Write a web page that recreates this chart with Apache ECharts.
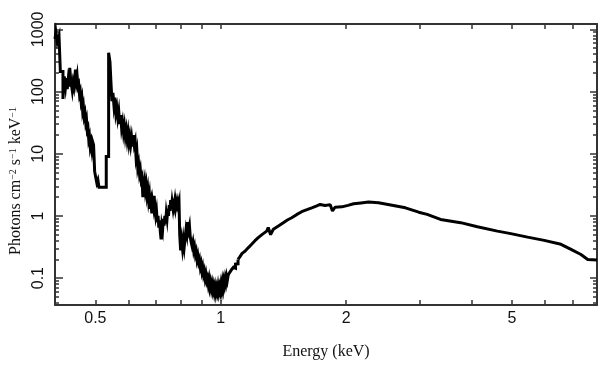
<!DOCTYPE html>
<html><head><meta charset="utf-8">
<script src="https://cdn.jsdelivr.net/npm/echarts@6/dist/echarts.min.js"></script>
<style>html,body{margin:0;padding:0;background:#fff}#c{width:609px;height:369px}</style>
</head><body><div id="c"></div>
<script>
// Low-energy (binned, step) part of the spectrum: energy (keV) and flux
const energyLow = [0.400,0.402,0.405,0.409,0.412,
  0.418,0.421,0.424,0.426,0.428,0.430,0.432,0.434,0.436,0.438,0.440,0.442,0.444,0.446,0.448,0.450,0.452,0.454,0.456,0.458,0.460,0.462,0.464,0.466,0.468,0.470,0.472,0.474,0.476,0.478,0.480,0.482,0.484,0.486,0.488,0.490,0.492,0.495,0.498,0.501,0.504,0.507,0.510,0.531,
  0.538,0.542,0.545,0.548,0.551,0.554,0.557,0.560,0.563,0.566,0.569,0.572,0.575,0.578,0.581,0.584,0.587,0.590,0.593,0.596,0.599,0.602,0.605,0.608,0.611,0.614,0.617,0.620,0.623,0.626,0.629,0.632,0.635,0.638,0.641,0.644,0.647,0.650,0.653,0.656,0.659,0.662,0.665,0.668,0.671,0.674,0.677,0.680,0.683,0.686,0.689,0.692,0.695,0.698,0.701,0.704,0.707,0.710,0.713,0.716,0.719,0.722,0.725,0.728,0.731,0.734,0.737,0.740,0.743,0.746,0.749,0.752,0.755,0.758,0.761,0.764,0.767,0.770,0.773,0.776,0.779,0.782,0.785,0.788,0.791,0.794,
  0.797,0.801,0.805,0.809,0.813,0.817,0.821,0.825,0.829,0.833,0.837,0.841,0.845,0.849,0.853,0.857,0.861,0.865,0.869,0.873,0.877,0.881,0.885,0.889,0.893,0.897,0.901,0.905,0.909,0.913,0.917,0.921,0.925,0.929,0.933,0.937,0.941,0.945,0.949,0.953,0.957,0.961,0.965,0.969,0.973,0.977,0.981,0.985,0.989,0.993,0.997,1.001,1.005,1.009,1.013,1.017,1.021,1.025,1.029,1.033,1.037,1.042,1.047,1.052,1.057,1.062,1.067,1.073,1.079,1.085,1.092,1.100];
const fluxLow = [700,900,620,780,210,
  76,175,120,165,110,150,120,240,160,130,105,140,120,170,225,150,180,120,130,90,100,70,80,50,58,40,45,32,36,24,26,17,19,13,15,12,16,14,5.2,4.2,3.4,3.8,2.9,9.0,
  420,300,140,70,95,60,80,45,55,38,48,30,42,26,32,22,28,19,24,17,22,15,19,14,18,13,20,14,16,9,11,6,7,4.8,5.6,3.8,4.2,2.0,3.2,3.8,2.6,3.2,2.2,2.7,1.8,2.2,1.3,1.6,1.1,1.7,1.4,2.1,1.3,1.0,1.2,0.8,1.0,0.65,0.85,0.55,0.42,0.7,0.6,0.9,0.7,1.0,0.75,1.1,0.9,1.3,1.0,1.5,1.2,1.8,1.3,1.7,1.4,1.9,1.5,1.8,1.4,1.7,1.5,1.7,1.4,1.6,
  0.5,0.28,0.4,0.3,0.42,0.32,0.45,0.6,0.5,0.8,0.6,0.7,0.45,0.38,0.33,0.38,0.28,0.32,0.24,0.27,0.2,0.23,0.18,0.2,0.15,0.17,0.13,0.15,0.115,0.13,0.1,0.115,0.09,0.1,0.08,0.095,0.072,0.085,0.068,0.08,0.064,0.075,0.06,0.072,0.058,0.07,0.06,0.074,0.06,0.072,0.062,0.078,0.065,0.085,0.07,0.09,0.078,0.098,0.085,0.105,0.092,0.112,0.105,0.125,0.118,0.138,0.13,0.15,0.145,0.168,0.17,0.2];
// High-energy (continuum) part
const energyHigh = [1.100,1.111,1.125,1.143,1.165,1.186,1.208,1.230,1.260,1.289,1.300,1.317,1.337,1.375,1.413,1.445,1.480,1.520,1.564,1.610,1.654,1.700,1.732,1.780,1.831,1.854,1.880,1.953,2.020,2.084,2.170,2.263,2.392,2.577,2.775,2.987,3.129,3.369,3.765,4.13,4.614,4.967,5.45,5.975,6.555,6.93,7.32,7.60,8.0];
const fluxHigh = [0.2,0.22,0.25,0.27,0.31,0.35,0.40,0.447,0.51,0.57,0.65,0.50,0.61,0.69,0.78,0.86,0.935,1.05,1.17,1.26,1.35,1.45,1.53,1.47,1.52,1.2,1.38,1.40,1.48,1.57,1.62,1.67,1.63,1.49,1.35,1.15,1.06,0.88,0.78,0.67,0.57,0.52,0.457,0.405,0.35,0.29,0.24,0.20,0.195];

const xLabelValues = [0.5, 1, 2, 5];
const xTickValues = [0.5, 0.6, 0.7, 0.8, 0.9, 1, 2, 3, 4, 5, 6, 7];
const yLabelValues = [0.1, 1, 10, 100, 1000];
const yMinorValues = [0.04,0.05,0.06,0.07,0.08,0.09,0.2,0.3,0.4,0.5,0.6,0.7,0.8,0.9,2,3,4,5,6,7,8,9,20,30,40,50,60,70,80,90,200,300,400,500,600,700,800,900];

const X_MIN = 0.4, X_MAX = 8, Y_MIN = 0.037, Y_MAX = 1220;
const axisColor = '#333';
const sans = 'Liberation Sans, Arial, sans-serif';
const serif = 'Liberation Serif, Times New Roman, serif';
const fmt = v => String(+(+v).toPrecision(3));

function xAx(pos, withLabels) {
  return {
    type: 'log', logBase: 10, min: X_MIN, max: X_MAX, position: pos,
    axisLine: { show: true, onZero: false, lineStyle: { color: axisColor, width: 2 } },
    axisTick: { show: true, inside: true, length: 5, customValues: xTickValues, lineStyle: { color: axisColor, width: 1.5 } },
    axisLabel: withLabels ? { show: true, customValues: xLabelValues, formatter: fmt, margin: 6, color: '#111', fontFamily: sans, fontSize: 16 } : { show: false },
    splitLine: { show: false }, minorTick: { show: false }, minorSplitLine: { show: false },
    name: withLabels ? 'Energy (keV)' : '', nameLocation: 'middle', nameGap: 39,
    nameTextStyle: { fontFamily: serif, fontSize: 16, color: '#111' }
  };
}
function yAx(pos, vals, len, withLabels, showLine) {
  return {
    type: 'log', logBase: 10, min: Y_MIN, max: Y_MAX, position: pos,
    axisLine: { show: showLine, onZero: false, lineStyle: { color: axisColor, width: 2 } },
    axisTick: { show: true, inside: true, length: len, customValues: vals, lineStyle: { color: axisColor, width: 1.5 } },
    axisLabel: withLabels ? { show: true, customValues: yLabelValues, formatter: fmt, rotate: 90, margin: 8, color: '#111', fontFamily: sans, fontSize: 16 } : { show: false },
    splitLine: { show: false }, minorTick: { show: false }, minorSplitLine: { show: false }
  };
}

const chart = echarts.init(document.getElementById('c'), null, { renderer: 'canvas' });
chart.setOption({
  animation: false,
  backgroundColor: '#fff',
  grid: { left: 55, right: 12, top: 24, bottom: 64, containLabel: false },
  xAxis: [xAx('bottom', true), xAx('top', false)],
  yAxis: [
    yAx('left', yLabelValues, 8, true, true),
    yAx('left', yMinorValues, 4, false, false),
    yAx('right', yLabelValues, 7, false, true),
    yAx('right', yMinorValues, 4, false, false)
  ],
  graphic: [{
    type: 'text', x: 16, y: 181, rotation: Math.PI / 2,
    style: {
      text: '{a|Photons cm}{s|−2}{a| s}{s|−1}{a| keV}{s|−1}',
      align: 'center', verticalAlign: 'middle',
      rich: {
        a: { fontFamily: serif, fontSize: 16, fill: '#111', color: '#111' },
        s: { fontFamily: serif, fontSize: 10, fill: '#111', color: '#111', verticalAlign: 'top' }
      }
    }
  }],
  series: [
    {
      type: 'line', xAxisIndex: 0, yAxisIndex: 0, step: 'end', showSymbol: false, symbol: 'none',
      data: energyLow.map((e, i) => [e, fluxLow[i]]),
      lineStyle: { color: '#000', width: 3, join: 'miter' }, clip: true
    },
    {
      type: 'line', xAxisIndex: 0, yAxisIndex: 0, showSymbol: false, symbol: 'none',
      data: energyHigh.map((e, i) => [e, fluxHigh[i]]),
      lineStyle: { color: '#000', width: 3 }, clip: true
    }
  ]
});
</script></body></html>
